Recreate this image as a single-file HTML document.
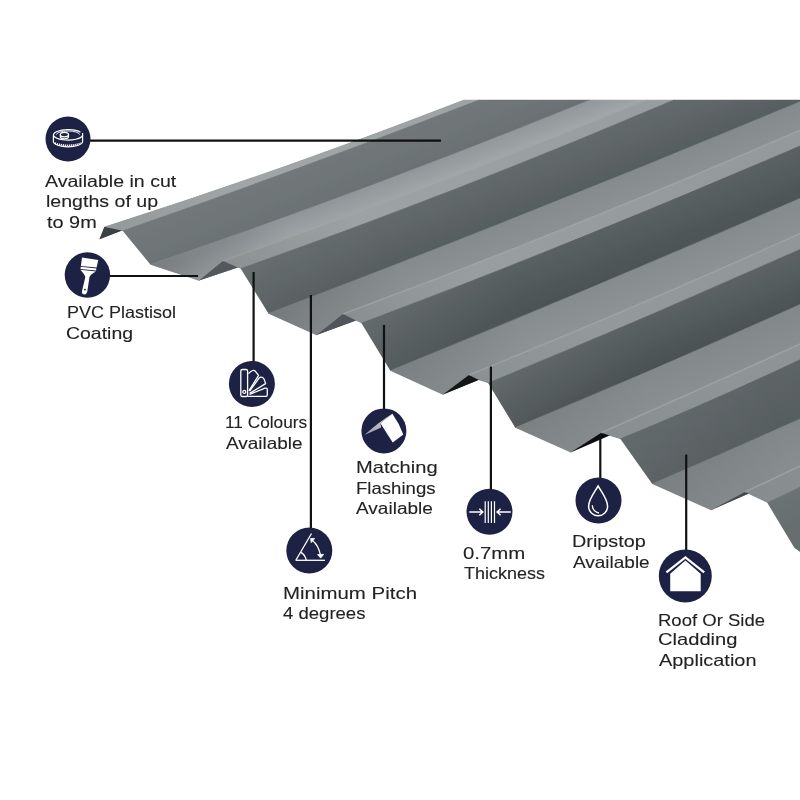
<!DOCTYPE html>
<html><head><meta charset="utf-8">
<style>
html,body{margin:0;padding:0;background:#fff;}
body{width:800px;height:800px;position:relative;overflow:hidden;font-family:"Liberation Sans",sans-serif;}
svg{position:absolute;left:0;top:0;}
.t{position:absolute;white-space:nowrap;font-size:16.5px;line-height:20px;color:#222;transform-origin:0 0;-webkit-text-stroke:0.1px #222;}
</style></head><body>
<svg width="800" height="800" viewBox="0 0 800 800">
<g id="sheet">
<defs><linearGradient id="gpan" gradientUnits="userSpaceOnUse" x1="330.0" y1="130.0" x2="700.0" y2="520.0"><stop offset="0" stop-color="#9ea3a4"/><stop offset="1" stop-color="#7f8587"/></linearGradient><linearGradient id="gcrest" gradientUnits="userSpaceOnUse" x1="330.0" y1="130.0" x2="700.0" y2="520.0"><stop offset="0" stop-color="#a0a5a6"/><stop offset="1" stop-color="#8c9294"/></linearGradient><linearGradient id="c0a" gradientUnits="userSpaceOnUse" x1="104.4" y1="227.0" x2="236.4" y2="180.4"><stop offset="0" stop-color="rgba(0,0,0,0.08)"/><stop offset="1" stop-color="rgba(0,0,0,0)"/></linearGradient><linearGradient id="w0" gradientUnits="userSpaceOnUse" x1="301.1" y1="167.2" x2="317.3" y2="207.5"><stop offset="0" stop-color="#72787a"/><stop offset="1" stop-color="#6b7173"/></linearGradient><linearGradient id="p0" gradientUnits="userSpaceOnUse" x1="370.4" y1="185.8" x2="378.9" y2="207.1"><stop offset="0" stop-color="#90969a"/><stop offset="1" stop-color="#a2a7a8"/></linearGradient><linearGradient id="p0a" gradientUnits="userSpaceOnUse" x1="150.7" y1="264.5" x2="281.8" y2="215.4"><stop offset="0" stop-color="rgba(0,0,0,0.16)"/><stop offset="1" stop-color="rgba(0,0,0,0)"/></linearGradient><linearGradient id="c1a" gradientUnits="userSpaceOnUse" x1="223.0" y1="261.0" x2="353.9" y2="211.3"><stop offset="0" stop-color="rgba(0,0,0,0.12)"/><stop offset="1" stop-color="rgba(0,0,0,0)"/></linearGradient><linearGradient id="w1" gradientUnits="userSpaceOnUse" x1="457.4" y1="188.3" x2="475.9" y2="234.7"><stop offset="0" stop-color="#646a6c"/><stop offset="1" stop-color="#565d5f"/></linearGradient><linearGradient id="w1f" gradientUnits="userSpaceOnUse" x1="241.0" y1="268.5" x2="390.1" y2="210.5"><stop offset="0" stop-color="rgba(255,255,255,0.02)"/><stop offset="1" stop-color="rgba(255,255,255,0)"/></linearGradient><linearGradient id="p1" gradientUnits="userSpaceOnUse" x1="534.4" y1="210.0" x2="545.9" y2="238.8"><stop offset="0" stop-color="#858b8d"/><stop offset="1" stop-color="#8d9395"/></linearGradient><linearGradient id="p1a" gradientUnits="userSpaceOnUse" x1="268.8" y1="313.4" x2="398.8" y2="261.6"><stop offset="0" stop-color="rgba(0,0,0,0.12)"/><stop offset="1" stop-color="rgba(0,0,0,0)"/></linearGradient><linearGradient id="c2a" gradientUnits="userSpaceOnUse" x1="343.0" y1="314.1" x2="472.9" y2="261.8"><stop offset="0" stop-color="rgba(0,0,0,0.11)"/><stop offset="1" stop-color="rgba(0,0,0,0)"/></linearGradient><linearGradient id="w2" gradientUnits="userSpaceOnUse" x1="580.9" y1="237.6" x2="599.9" y2="285.3"><stop offset="0" stop-color="#5a6163"/><stop offset="1" stop-color="#4b5254"/></linearGradient><linearGradient id="w2f" gradientUnits="userSpaceOnUse" x1="361.8" y1="323.1" x2="510.1" y2="263.2"><stop offset="0" stop-color="rgba(255,255,255,0.06)"/><stop offset="1" stop-color="rgba(255,255,255,0)"/></linearGradient><linearGradient id="p2" gradientUnits="userSpaceOnUse" x1="595.3" y1="285.9" x2="608.4" y2="318.6"><stop offset="0" stop-color="#868c8e"/><stop offset="1" stop-color="#8e9496"/></linearGradient><linearGradient id="p2a" gradientUnits="userSpaceOnUse" x1="390.6" y1="370.6" x2="519.7" y2="316.3"><stop offset="0" stop-color="rgba(0,0,0,0.1)"/><stop offset="1" stop-color="rgba(0,0,0,0)"/></linearGradient><linearGradient id="c3a" gradientUnits="userSpaceOnUse" x1="469.0" y1="375.0" x2="597.7" y2="320.0"><stop offset="0" stop-color="rgba(0,0,0,0.07)"/><stop offset="1" stop-color="rgba(0,0,0,0)"/></linearGradient><linearGradient id="w3" gradientUnits="userSpaceOnUse" x1="644.2" y1="317.6" x2="663.7" y2="366.3"><stop offset="0" stop-color="#5b6264"/><stop offset="1" stop-color="#4a5052"/></linearGradient><linearGradient id="w3f" gradientUnits="userSpaceOnUse" x1="488.5" y1="383.0" x2="635.5" y2="319.9"><stop offset="0" stop-color="rgba(255,255,255,0.05)"/><stop offset="1" stop-color="rgba(255,255,255,0)"/></linearGradient><linearGradient id="p3" gradientUnits="userSpaceOnUse" x1="657.8" y1="367.4" x2="671.5" y2="401.8"><stop offset="0" stop-color="#83898b"/><stop offset="1" stop-color="#8a9092"/></linearGradient><linearGradient id="p3a" gradientUnits="userSpaceOnUse" x1="515.5" y1="427.5" x2="644.0" y2="371.9"><stop offset="0" stop-color="rgba(0,0,0,0.07)"/><stop offset="1" stop-color="rgba(0,0,0,0)"/></linearGradient><linearGradient id="c4a" gradientUnits="userSpaceOnUse" x1="601.2" y1="432.8" x2="729.1" y2="375.7"><stop offset="0" stop-color="rgba(0,0,0,0.06)"/><stop offset="1" stop-color="rgba(0,0,0,0)"/></linearGradient><linearGradient id="w4" gradientUnits="userSpaceOnUse" x1="710.3" y1="400.7" x2="730.1" y2="450.3"><stop offset="0" stop-color="#5d6466"/><stop offset="1" stop-color="#565d5f"/></linearGradient><linearGradient id="w4f" gradientUnits="userSpaceOnUse" x1="620.6" y1="438.8" x2="767.0" y2="374.2"><stop offset="0" stop-color="rgba(255,255,255,0.04)"/><stop offset="1" stop-color="rgba(255,255,255,0)"/></linearGradient><linearGradient id="p4" gradientUnits="userSpaceOnUse" x1="726.2" y1="451.7" x2="742.8" y2="492.9"><stop offset="0" stop-color="#82888a"/><stop offset="1" stop-color="#898f91"/></linearGradient><linearGradient id="p4a" gradientUnits="userSpaceOnUse" x1="652.5" y1="483.8" x2="780.7" y2="427.5"><stop offset="0" stop-color="rgba(0,0,0,0.07)"/><stop offset="1" stop-color="rgba(0,0,0,0)"/></linearGradient><linearGradient id="c5a" gradientUnits="userSpaceOnUse" x1="745.0" y1="491.9" x2="871.7" y2="432.3"><stop offset="0" stop-color="rgba(0,0,0,0.04)"/><stop offset="1" stop-color="rgba(0,0,0,0)"/></linearGradient><linearGradient id="w5" gradientUnits="userSpaceOnUse" x1="780.0" y1="470.0" x2="800.0" y2="520.0"><stop offset="0" stop-color="#70777a"/><stop offset="1" stop-color="#676e70"/></linearGradient><filter id="soft" x="-5%" y="-5%" width="110%" height="110%"><feGaussianBlur stdDeviation="0.6"/></filter></defs>
<g filter="url(#soft)"><path d="M104.40,227.00 Q284.20,169.84 464.00,100.00 L800,100 L800,551.5 L800.00,551.50 L794.50,547.50 L767.50,502.50 L748.80,493.60 L711.25,510.00 L652.50,483.75 L620.60,438.75 L609.40,435.60 L571.00,452.30 L515.50,427.50 L488.50,383.00 L478.50,380.00 L443.00,394.50 L390.60,370.60 L361.75,323.10 L356.00,320.50 L316.60,335.00 L268.75,313.40 L241.00,268.50 L237.80,267.40 L199.00,280.50 L150.70,264.50 L123.00,230.70 L122.00,230.45 L99.50,239.20 Z" fill="#6f7577"/>
<path d="M104.40,227.00 L123.00,230.70 Q301.12,169.07 479.25,100.00 L464.00,100.00 Q284.20,169.84 104.40,227.00 Z" fill="url(#gcrest)" stroke="url(#gcrest)" stroke-width="0.5"/>
<path d="M104.40,227.00 L123.00,230.70 Q301.12,169.07 479.25,100.00 L464.00,100.00 Q284.20,169.84 104.40,227.00 Z" fill="url(#c0a)"/>
<path d="M123.00,230.70 L150.70,264.50 Q370.35,189.37 590.00,100.00 L479.25,100.00 Q301.12,169.07 123.00,230.70 Z" fill="url(#w0)" stroke="url(#w0)" stroke-width="0.5"/>
<path d="M150.70,264.50 L199.00,280.50 L223.00,261.00 Q435.00,187.70 647.00,100.00 L590.00,100.00 Q370.35,189.37 150.70,264.50 Z" fill="url(#p0)" stroke="url(#p0)" stroke-width="0.5"/>
<path d="M150.70,264.50 L199.00,280.50 L223.00,261.00 Q435.00,187.70 647.00,100.00 L590.00,100.00 Q370.35,189.37 150.70,264.50 Z" fill="url(#p0a)"/>
<path d="M223.00,261.00 L241.00,268.50 Q457.40,192.45 673.80,100.00 L647.00,100.00 Q435.00,187.70 223.00,261.00 Z" fill="url(#gcrest)" stroke="url(#gcrest)" stroke-width="0.5"/>
<path d="M223.00,261.00 L241.00,268.50 Q457.40,192.45 673.80,100.00 L647.00,100.00 Q435.00,187.70 223.00,261.00 Z" fill="url(#c1a)"/>
<path d="M241.00,268.50 L268.75,313.40 Q534.38,212.45 800.00,101.75 L800.00,100.00 L673.80,100.00 Q457.40,192.45 241.00,268.50 Z" fill="url(#w1)" stroke="url(#w1)" stroke-width="0.5"/>
<path d="M241.00,268.50 L268.75,313.40 Q534.38,212.45 800.00,101.75 L800.00,100.00 L673.80,100.00 Q457.40,192.45 241.00,268.50 Z" fill="url(#w1f)"/>
<path d="M268.75,313.40 L316.60,335.00 L343.00,314.10 Q571.50,229.25 800.00,130.20 L800.00,101.75 Q534.38,212.45 268.75,313.40 Z" fill="url(#p1)" stroke="url(#p1)" stroke-width="0.5"/>
<path d="M268.75,313.40 L316.60,335.00 L343.00,314.10 Q571.50,229.25 800.00,130.20 L800.00,101.75 Q534.38,212.45 268.75,313.40 Z" fill="url(#p1a)"/>
<path d="M343.00,314.10 L361.75,323.10 Q580.88,240.71 800.00,146.00 L800.00,130.20 Q571.50,229.25 343.00,314.10 Z" fill="url(#gcrest)" stroke="url(#gcrest)" stroke-width="0.5"/>
<path d="M343.00,314.10 L361.75,323.10 Q580.88,240.71 800.00,146.00 L800.00,130.20 Q571.50,229.25 343.00,314.10 Z" fill="url(#c2a)"/>
<path d="M361.75,323.10 L390.60,370.60 Q595.30,287.15 800.00,198.50 L800.00,146.00 Q580.88,240.71 361.75,323.10 Z" fill="url(#w2)" stroke="url(#w2)" stroke-width="0.5"/>
<path d="M361.75,323.10 L390.60,370.60 Q595.30,287.15 800.00,198.50 L800.00,146.00 Q580.88,240.71 361.75,323.10 Z" fill="url(#w2f)"/>
<path d="M390.60,370.60 L443.00,394.50 L469.00,375.00 Q634.50,308.10 800.00,233.60 L800.00,198.50 Q595.30,287.15 390.60,370.60 Z" fill="url(#p2)" stroke="url(#p2)" stroke-width="0.5"/>
<path d="M390.60,370.60 L443.00,394.50 L469.00,375.00 Q634.50,308.10 800.00,233.60 L800.00,198.50 Q595.30,287.15 390.60,370.60 Z" fill="url(#p2a)"/>
<path d="M469.00,375.00 L488.50,383.00 Q644.25,319.00 800.00,249.40 L800.00,233.60 Q634.50,308.10 469.00,375.00 Z" fill="url(#gcrest)" stroke="url(#gcrest)" stroke-width="0.5"/>
<path d="M469.00,375.00 L488.50,383.00 Q644.25,319.00 800.00,249.40 L800.00,233.60 Q634.50,308.10 469.00,375.00 Z" fill="url(#c3a)"/>
<path d="M488.50,383.00 L515.50,427.50 Q657.75,368.72 800.00,304.50 L800.00,249.40 Q644.25,319.00 488.50,383.00 Z" fill="url(#w3)" stroke="url(#w3)" stroke-width="0.5"/>
<path d="M488.50,383.00 L515.50,427.50 Q657.75,368.72 800.00,304.50 L800.00,249.40 Q644.25,319.00 488.50,383.00 Z" fill="url(#w3f)"/>
<path d="M515.50,427.50 L571.00,452.30 L601.25,432.80 Q700.62,389.00 800.00,344.00 L800.00,304.50 Q657.75,368.72 515.50,427.50 Z" fill="url(#p3)" stroke="url(#p3)" stroke-width="0.5"/>
<path d="M515.50,427.50 L571.00,452.30 L601.25,432.80 Q700.62,389.00 800.00,344.00 L800.00,304.50 Q657.75,368.72 515.50,427.50 Z" fill="url(#p3a)"/>
<path d="M601.25,432.80 L620.60,438.75 Q710.30,402.23 800.00,359.70 L800.00,344.00 Q700.62,389.00 601.25,432.80 Z" fill="url(#gcrest)" stroke="url(#gcrest)" stroke-width="0.5"/>
<path d="M601.25,432.80 L620.60,438.75 Q710.30,402.23 800.00,359.70 L800.00,344.00 Q700.62,389.00 601.25,432.80 Z" fill="url(#c4a)"/>
<path d="M620.60,438.75 L652.50,483.75 Q726.25,451.98 800.00,419.00 L800.00,359.70 Q710.30,402.23 620.60,438.75 Z" fill="url(#w4)" stroke="url(#w4)" stroke-width="0.5"/>
<path d="M620.60,438.75 L652.50,483.75 Q726.25,451.98 800.00,419.00 L800.00,359.70 Q710.30,402.23 620.60,438.75 Z" fill="url(#w4f)"/>
<path d="M652.50,483.75 L711.25,510.00 L745.00,491.90 Q772.50,479.35 800.00,466.00 L800.00,419.00 Q726.25,451.98 652.50,483.75 Z" fill="url(#p4)" stroke="url(#p4)" stroke-width="0.5"/>
<path d="M652.50,483.75 L711.25,510.00 L745.00,491.90 Q772.50,479.35 800.00,466.00 L800.00,419.00 Q726.25,451.98 652.50,483.75 Z" fill="url(#p4a)"/>
<path d="M745.00,491.90 L767.50,502.50 Q783.75,495.25 800.00,487.20 L800.00,466.00 Q772.50,479.35 745.00,491.90 Z" fill="url(#gcrest)" stroke="url(#gcrest)" stroke-width="0.5"/>
<path d="M745.00,491.90 L767.50,502.50 Q783.75,495.25 800.00,487.20 L800.00,466.00 Q772.50,479.35 745.00,491.90 Z" fill="url(#c5a)"/>
<path d="M767.50,502.50 L794.50,547.50 L800,551.5 L800.00,487.20 Q783.75,495.25 767.50,502.50 Z" fill="url(#w5)" stroke="url(#w5)" stroke-width="0.5"/>
<path d="M99.50,239.20 L104.40,227.00 L122.00,230.45 Z" fill="#3a3f42"/>
<path d="M199.00,280.50 L223.00,261.00 L237.80,267.40 Z" fill="#52585c"/>
<path d="M316.60,335.00 L343.00,314.10 L356.00,320.50 Z" fill="#4f555a"/>
<path d="M443.00,394.50 L469.00,375.00 L478.50,380.00 Z" fill="#121415"/>
<path d="M571.00,452.30 L601.25,432.80 L609.40,435.60 Z" fill="#0f1112"/>
<path d="M711.25,510.00 L745.00,491.90 L748.80,493.60 Z" fill="#454b4e"/>
<path d="M223.00,261.00 Q435.00,187.70 647.00,100.00" stroke="#a9aeae" stroke-width="1.6" fill="none" opacity="0.25"/>
<path d="M343.00,314.10 Q571.50,229.25 800.00,130.20" stroke="#a9aeae" stroke-width="1.6" fill="none" opacity="0.5"/>
<path d="M469.00,375.00 Q634.50,308.10 800.00,233.60" stroke="#a9aeae" stroke-width="1.6" fill="none" opacity="0.5"/>
<path d="M601.25,432.80 Q700.62,389.00 800.00,344.00" stroke="#a9aeae" stroke-width="1.6" fill="none" opacity="0.55"/>
<path d="M745.00,491.90 Q772.50,479.35 800.00,466.00" stroke="#a9aeae" stroke-width="1.6" fill="none" opacity="0.6"/></g>
</g>
<g stroke="#111" stroke-width="2.2" fill="none">
<line x1="88" y1="140.7" x2="441" y2="140.7"/>
<line x1="108" y1="276" x2="198" y2="276"/>
<line x1="253.6" y1="272" x2="253.6" y2="362"/>
<line x1="310.9" y1="295" x2="310.9" y2="529"/>
<line x1="384" y1="325" x2="384" y2="409"/>
<line x1="490.9" y1="366.6" x2="490.9" y2="490"/>
<line x1="600.3" y1="434" x2="600.3" y2="478"/>
<line x1="686.2" y1="454.6" x2="686.2" y2="551"/>
</g>
<g fill="#1d2245">
<circle cx="68" cy="139" r="22.5"/>
<circle cx="87.4" cy="275" r="22.7"/>
<circle cx="251.9" cy="383.9" r="23"/>
<circle cx="383.9" cy="430.9" r="22.5"/>
<circle cx="309.3" cy="550.6" r="23"/>
<circle cx="489.5" cy="511.7" r="23"/>
<circle cx="598.5" cy="500.4" r="23"/>
<circle cx="685.3" cy="576" r="26.5"/>
</g>
<!-- icons -->
<g stroke="#fff" fill="none" stroke-width="1.2">

<!-- tape -->
<g stroke-width="1.2">
<path d="M80.5,132.2 A14.6,5.2 0 1 0 82.6,135.2"/>
<path d="M56.5,134.6 A11.5,3.6 0 0 1 79.5,134.6" stroke-width="0.9"/>
<path d="M53.4,135.2 V141.6 A14.6,5.2 0 0 0 82.6,141.6 V133"/>
<path d="M55,143.2 Q68,147.5 81,143.2" stroke-width="1.8" stroke-dasharray="1.1,0.9"/>
<ellipse cx="64.4" cy="134.6" rx="4.1" ry="2.3"/>
<path d="M60.3,134.6 V136.6 A4.1,2.3 0 0 0 68.5,136.6 V134.6"/>
</g>
<!-- brush -->
<g fill="#fff" stroke="none">
<path d="M82,257.6 L98.3,260 L96.6,267.6 L80.9,265.9 Z"/>
<path d="M80.8,266.8 L96.4,268.5 L96,270.6 L80.5,268.9 Z"/>
<path d="M80.4,269.7 L95.9,271.4 C93.2,273.2 90.2,274.4 89.5,277 L87.3,291.6 Q86.7,294.6 84.1,294.4 Q81.5,294.1 82,291.3 L85.3,277 C84.6,274.1 82.2,272.2 80.4,269.7 Z"/>
</g>
<circle cx="84.9" cy="289.6" r="0.95" fill="#1d2245" stroke="none"/>
<!-- colours -->
<g stroke-width="1.3" stroke-linejoin="round">
<rect x="240.8" y="369.5" width="6.8" height="27" rx="1.6"/>
<circle cx="244.3" cy="391.9" r="1.5"/>
<path d="M248.4,373.6 Q250.6,371.4 252.7,370.5 Q254.2,369.9 255.2,371.1 L258.6,375.4 L248.9,390.8"/>
<path d="M249.6,391.2 L259.2,377.9 Q260.6,376.7 262.2,377.3 Q263.5,378 264.2,379.4 L265.6,383.6 L249.6,393.4"/>
<path d="M249.6,394.4 L265,388.2 Q267.3,387.5 267.3,389.9 L267.3,395.1 Q267.3,396.4 266,396.4 L247.6,396.4"/>
</g>
<!-- flashing -->
<g stroke="none">
<linearGradient id="fg" x1="0" y1="1" x2="1" y2="0"><stop offset="0" stop-color="#9a9ca6"/><stop offset="1" stop-color="#d6d7da"/></linearGradient>
<path d="M364.5,435 Q378,422.3 392.8,413.4 L380.4,423.3 L381.2,427.6 Z" fill="url(#fg)"/>
<path d="M380.4,423.3 L392.4,413.7 Q399,423 403.3,434.4 L392.7,442.5 Z" fill="#fff"/>
</g>
<!-- pitch -->
<g stroke-width="1.3">
<path d="M295.5,560.3 H325"/>
<path d="M296,560 L311.5,533.5"/>
<path d="M300.8,552.4 Q304.8,554.5 306.3,560"/>
<path d="M312.2,540.2 Q318.5,545 320.6,555.5"/>
<path d="M310.6,538.6 L314.6,538.4 L311.2,542.6 Z" fill="#fff" stroke-width="0.8"/>
<path d="M317.6,554.6 L323.6,554.4 L320.7,558.1 Z" fill="#fff" stroke-width="0.8"/>
</g>
<!-- thickness -->
<g stroke-width="1.2">
<path d="M485.2,501.2 V523 M488.3,501.2 V523 M491.4,501.2 V523 M494.5,501.2 V523"/>
<path stroke-width="1.5" d="M469.3,512 H482.6 M479.3,508.7 L482.8,512 L479.3,515.3"/>
<path stroke-width="1.5" d="M510.8,512 H497.3 M500.6,508.7 L497.1,512 L500.6,515.3"/>
</g>
<!-- drip -->
<g stroke-width="1.5">
<path d="M598.1,486 C594,493 588.6,499.5 588.6,506.3 A9.5,9.5 0 0 0 607.6,506.3 C607.6,499.5 602.2,493 598.1,486 Z"/>
<path d="M592.3,505.2 Q592.5,511.5 599,513" stroke-width="1.3"/>
</g>
<!-- house -->
<g stroke="none" fill="#fff">
<path d="M670.2,591.3 V573.8 L685.4,560.6 L700.7,573.8 V591.3 Z"/>
</g>
<path d="M666.4,572.4 L685.4,557.4 L704.2,572.4" stroke-width="2.3"/>

</g>
</svg>
<div class="t" style="left:45.25px;top:170.60px;transform:scaleX(1.1859)">Available in cut</div>
<div class="t" style="left:45.51px;top:191.20px;transform:scaleX(1.1860)">lengths of up</div>
<div class="t" style="left:47.00px;top:211.80px;transform:scaleX(1.2050)">to 9m</div>
<div class="t" style="left:66.51px;top:302.40px;transform:scaleX(1.0898)">PVC Plastisol</div>
<div class="t" style="left:66.42px;top:323.00px;transform:scaleX(1.1782)">Coating</div>
<div class="t" style="left:225.15px;top:412.20px;transform:scaleX(1.0455)">11 Colours</div>
<div class="t" style="left:225.70px;top:433.20px;transform:scaleX(1.1485)">Available</div>
<div class="t" style="left:355.78px;top:457.20px;transform:scaleX(1.2185)">Matching</div>
<div class="t" style="left:355.87px;top:477.50px;transform:scaleX(1.1261)">Flashings</div>
<div class="t" style="left:356.20px;top:497.70px;transform:scaleX(1.1530)">Available</div>
<div class="t" style="left:282.76px;top:582.50px;transform:scaleX(1.2387)">Minimum Pitch</div>
<div class="t" style="left:283.40px;top:603.00px;transform:scaleX(1.1233)">4 degrees</div>
<div class="t" style="left:462.51px;top:542.75px;transform:scaleX(1.2365)">0.7mm</div>
<div class="t" style="left:463.75px;top:563.40px;transform:scaleX(1.0899)">Thickness</div>
<div class="t" style="left:572.40px;top:531.10px;transform:scaleX(1.2000)">Dripstop</div>
<div class="t" style="left:573.10px;top:551.90px;transform:scaleX(1.1500)">Available</div>
<div class="t" style="left:658.18px;top:609.70px;transform:scaleX(1.1223)">Roof Or Side</div>
<div class="t" style="left:657.58px;top:629.40px;transform:scaleX(1.2206)">Cladding</div>
<div class="t" style="left:658.80px;top:650.00px;transform:scaleX(1.2075)">Application</div>
</body></html>
